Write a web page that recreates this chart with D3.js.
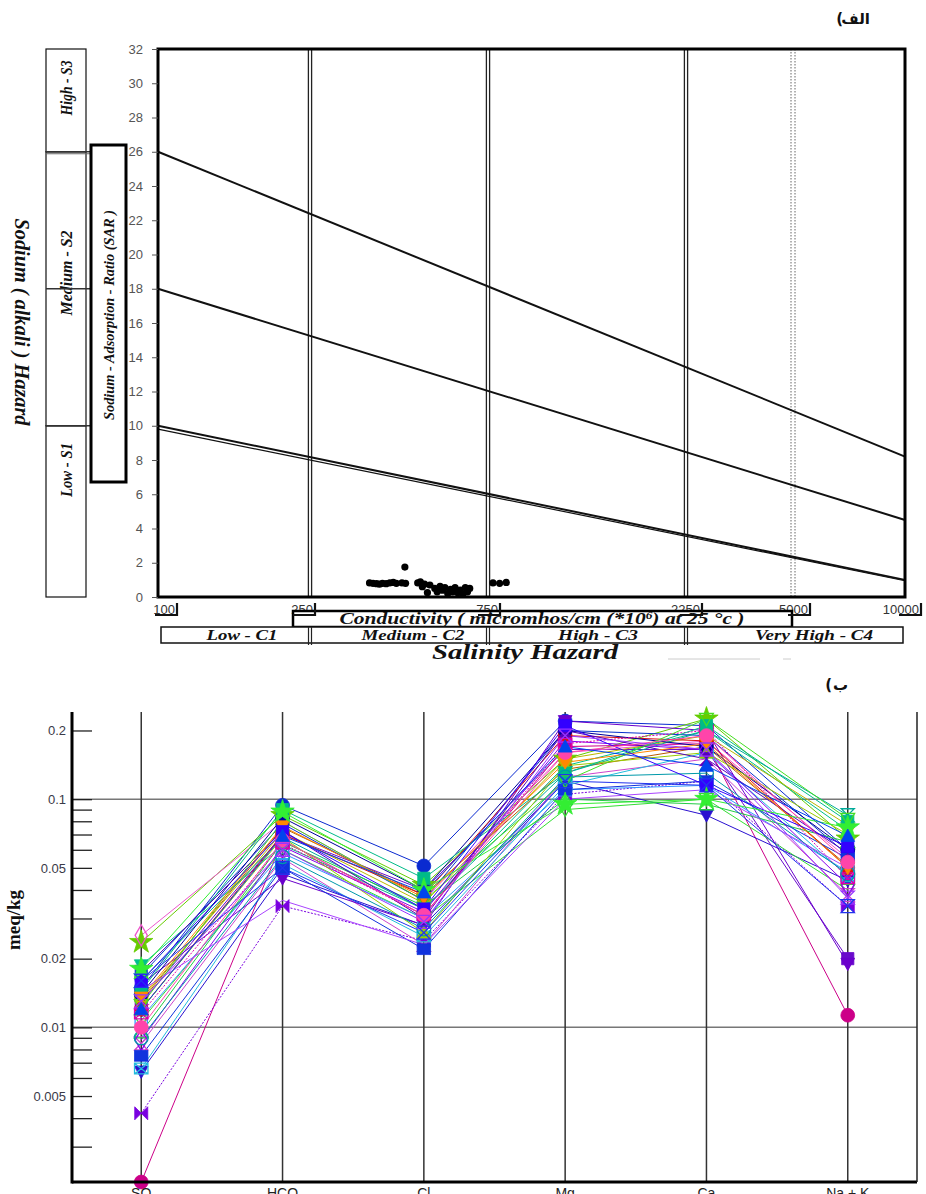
<!DOCTYPE html>
<html><head><meta charset="utf-8">
<script src="https://cdn.jsdelivr.net/npm/d3@7"></script>
<style>html,body{margin:0;padding:0;background:#fff}svg{display:block}</style>
</head><body>
<svg id="c" width="926" height="1194"></svg>
<script>
// ================= DATA: top (USSL / Wilcox) =================
const ecKnots = [100, 250, 750, 2250, 5000, 10000];
const xTickLabels = ["100", "250", "750", "2250", "5000", "10000"];
const salinityBounds = [250, 750, 2250];
const dottedBounds = [5000];
const sarTicks = [0,2,4,6,8,10,12,14,16,18,20,22,24,26,28,30,32];
const hazardStartSar = [26, 18, 10, 9.8];
const hazardEndSar = [8.2, 4.5, 1.0, 0.95];
const sodiumBounds = [32, 26, 10, 0];
const sodiumMarks = [26, 18, 10];
const sodiumLabels = ["High - S3", "Medium - S2", "Low - S1"];
const salinityLabels = ["Low - C1", "Medium - C2", "High - C3", "Very High - C4"];
const ecValues  = [361,369,377,384,391,400,409,418,426,449,441,451,486,494,507,500,524,516,540,548,558,566,575,585,595,603,612,622,632,642,652,661,670,771,800,830];
const sarValues = [0.82,0.80,0.78,0.75,0.80,0.78,0.82,0.85,0.80,1.75,0.82,0.80,0.82,0.88,0.75,0.60,0.70,0.25,0.50,0.30,0.62,0.40,0.55,0.20,0.45,0.30,0.55,0.25,0.40,0.15,0.55,0.30,0.50,0.82,0.80,0.85];

// ================= DATA: bottom (Schoeller) =================
const ions = ["SO", "HCO", "Cl", "Mg", "Ca", "Na + K"];
const yTickValues = [0.2,0.09,0.08,0.07,0.06,0.05,0.04,0.03,0.02,0.009,0.008,0.007,0.006,0.005,0.004,0.003];
const yTickLabelled = [0.2, 0.1, 0.05, 0.02, 0.01, 0.005];
const yGrid = [0.1, 0.01];
const so4  = [0.0148,0.0236,0.0187,0.0130,0.0128,0.0021,0.0253,0.0064,0.0042,0.0107,0.0085,0.0169,0.0133,0.0160,0.0066,0.0155,0.0120,0.0110,0.0140,0.0095,0.0088,0.0120,0.0075,0.0115,0.0145,0.0175,0.0125,0.0135,0.0090,0.0160,0.0180,0.0100,0.0130,0.0145,0.0120,0.0160];
const hco3 = [0.094,0.085,0.063,0.075,0.070,0.066,0.080,0.047,0.034,0.060,0.055,0.078,0.072,0.068,0.052,0.045,0.070,0.058,0.083,0.065,0.062,0.068,0.050,0.064,0.090,0.073,0.080,0.076,0.056,0.072,0.088,0.066,0.060,0.036,0.069,0.050];
const cl   = [0.051,0.042,0.033,0.038,0.040,0.031,0.036,0.028,0.024,0.030,0.023,0.036,0.035,0.033,0.025,0.028,0.038,0.030,0.040,0.034,0.032,0.026,0.022,0.031,0.045,0.030,0.036,0.037,0.027,0.033,0.040,0.031,0.029,0.023,0.039,0.026];
const mg   = [0.220,0.150,0.140,0.135,0.165,0.170,0.160,0.120,0.105,0.090,0.125,0.200,0.150,0.130,0.115,0.220,0.190,0.110,0.200,0.100,0.180,0.140,0.110,0.175,0.130,0.200,0.120,0.145,0.125,0.210,0.095,0.160,0.190,0.100,0.170,0.120];
const ca   = [0.210,0.225,0.200,0.170,0.165,0.175,0.180,0.085,0.120,0.100,0.150,0.190,0.190,0.200,0.160,0.200,0.180,0.115,0.170,0.095,0.165,0.160,0.120,0.200,0.210,0.150,0.225,0.175,0.130,0.115,0.100,0.190,0.165,0.110,0.140,0.115];
const nak  = [0.060,0.067,0.073,0.051,0.020,0.0113,0.055,0.044,0.034,0.040,0.038,0.057,0.077,0.085,0.046,0.019,0.050,0.048,0.060,0.065,0.042,0.070,0.055,0.045,0.080,0.058,0.082,0.050,0.047,0.062,0.075,0.053,0.037,0.050,0.069,0.034];

// styles (separate from data)
const sampleColors = ["#0a2ad0","#66cc00","#00c08a","#b85c00","#6a0acc","#cc0088","#ee55cc","#2a10d0","#7a00e0","#33dd33","#cc44cc","#0a33cc","#b8b800","#00aa99","#22bbdd","#6a00cc","#dd1111","#3399ff","#000099","#22cc44","#8800ee","#99cc00","#1133dd","#dd00aa","#00bb88","#5500bb","#44dd22","#ff8800","#0099aa","#3300ff","#33ee33","#ff44aa","#9933ff","#aa44ff","#0044ee","#2233ee"];
const sampleSymbols = ["circle","star","triDown","triDown","square","circle","diamond","triDown","bowtie","triDown","hourglass","square","circle","hourglass","envelope","triDown","circle","square","circle","triUp","diamond","triUp","envelope","envelope","square","hourglass","triDown","triDown","circle","square","star","circle","hourglass","none","triUp","hourglass"];
const sampleOpen = [0,0,0,0,0,0,1,0,0,1,1,0,0,1,1,0,0,1,0,1,1,0,0,1,0,0,1,0,1,0,0,0,1,0,0,1];
const sampleDashed = [0,0,0,0,0,0,0,0,1,0,0,0,0,0,0,0,0,0,0,0,0,0,0,1,0,0,0,0,0,0,0,0,0,0,0,0];

// ================= DRAW =================
const svg = d3.select("#c");
const serif = "'Liberation Serif','Times New Roman',serif";
const sans = "'Liberation Sans',Arial,sans-serif";

// ---------- top chart ----------
const xs = d3.scaleLinear().domain(ecKnots.map(Math.log10)).range([158, 310, 488, 686, 793, 905]);
const X = v => xs(Math.log10(v));
const Y = d3.scaleLinear().domain([0, 32]).range([597, 49]);
const T = svg.append("g");

salinityBounds.forEach(v => [-1.6, 1.6].forEach(o =>
  T.append("line").attr("x1", X(v) + o).attr("x2", X(v) + o).attr("y1", Y(32)).attr("y2", Y(0))
   .attr("stroke", "#222").attr("stroke-width", 1.3)));
dottedBounds.forEach(v => [-2, 2].forEach(o =>
  T.append("line").attr("x1", X(v) + o).attr("x2", X(v) + o).attr("y1", Y(32)).attr("y2", Y(0))
   .attr("stroke", "#666").attr("stroke-width", 1).attr("stroke-dasharray", "1.5 1.5")));

hazardStartSar.forEach((s, i) =>
  T.append("line").attr("x1", X(ecKnots[0])).attr("y1", Y(s))
   .attr("x2", X(ecKnots[ecKnots.length - 1])).attr("y2", Y(hazardEndSar[i]))
   .attr("stroke", "#111").attr("stroke-width", i === 3 ? 1.2 : 2));

T.append("rect").attr("x", X(100)).attr("y", Y(32)).attr("width", X(10000) - X(100)).attr("height", Y(0) - Y(32))
 .attr("fill", "none").attr("stroke", "#000").attr("stroke-width", 3);

T.selectAll("circle.pt").data(ecValues).join("circle").attr("class", "pt")
 .attr("cx", d => X(d)).attr("cy", (d, i) => Y(sarValues[i])).attr("r", 3.6).attr("fill", "#000");

const ya = T.append("g").attr("transform", `translate(${X(100)},0)`)
  .call(d3.axisLeft(Y).tickValues(sarTicks).tickSize(6).tickPadding(9));
ya.select(".domain").remove();
ya.selectAll("text").attr("font-family", sans).attr("font-size", 13).attr("fill", "#555");
ya.selectAll("line").attr("stroke", "#555");

// sodium class boxes
const sodiumLabelY = [88, 273, 470];
const sodiumLabelLen = [55, 85, 54];
sodiumLabels.forEach((lab, i) => {
  T.append("rect").attr("x", 46).attr("y", Y(sodiumBounds[i])).attr("width", 40)
   .attr("height", Y(sodiumBounds[i + 1]) - Y(sodiumBounds[i]))
   .attr("fill", "none").attr("stroke", "#111").attr("stroke-width", 1.2);
  T.append("text").attr("transform", `translate(72,${sodiumLabelY[i]}) rotate(-90)`)
   .attr("text-anchor", "middle").attr("font-family", serif).attr("font-style", "italic")
   .attr("font-weight", "bold").attr("font-size", 16).attr("textLength", sodiumLabelLen[i])
   .attr("lengthAdjust", "spacingAndGlyphs").attr("fill", "#111").text(lab);
});
sodiumMarks.forEach(s => T.append("line").attr("x1", 46).attr("x2", 91).attr("y1", Y(s)).attr("y2", Y(s))
  .attr("stroke", "#333").attr("stroke-width", 1.3));
T.append("line").attr("x1", 46).attr("x2", 91).attr("y1", Y(26) + 2).attr("y2", Y(26) + 2).attr("stroke", "#666").attr("stroke-width", 1);

T.append("rect").attr("x", 91).attr("y", 145).attr("width", 35).attr("height", 337)
 .attr("fill", "#fff").attr("stroke", "#000").attr("stroke-width", 3);
T.append("text").attr("transform", "translate(114,315) rotate(-90)").attr("text-anchor", "middle")
 .attr("font-family", serif).attr("font-style", "italic").attr("font-weight", "bold").attr("font-size", 15)
 .attr("textLength", 210).attr("lengthAdjust", "spacingAndGlyphs").attr("fill", "#111")
 .text("Sodium - Adsorption - Ratio (SAR )");
T.append("text").attr("transform", "translate(15,322) rotate(90)").attr("text-anchor", "middle")
 .attr("font-family", serif).attr("font-style", "italic").attr("font-weight", "bold").attr("font-size", 20)
 .attr("textLength", 207).attr("lengthAdjust", "spacingAndGlyphs").attr("fill", "#111")
 .text("Sodium ( alkali ) Hazard");

// x tick labels (label end offsets are layout, not data)
const xTickLabelShift = [17, 3, 10, 14, 15, 14];
ecKnots.forEach((v, i) => {
  T.append("text").attr("x", X(v) + xTickLabelShift[i]).attr("y", 614).attr("text-anchor", "end")
   .attr("font-family", sans).attr("font-size", 13).attr("fill", "#333").text(xTickLabels[i]);
});
// conductivity box
T.append("rect").attr("x", 293).attr("y", 611).attr("width", 499).attr("height", 16)
 .attr("fill", "#fff").attr("stroke", "#000").attr("stroke-width", 2.5);
const ct = T.append("text").attr("x", 542).attr("y", 624).attr("text-anchor", "middle")
 .attr("font-family", serif).attr("font-style", "italic").attr("font-weight", "bold").attr("font-size", 16)
 .attr("textLength", 405).attr("lengthAdjust", "spacingAndGlyphs").attr("fill", "#111");
ct.append("tspan").text("Conductivity ( micromhos/cm (*10");
ct.append("tspan").attr("dy", -5).attr("font-size", 10).text("6");
ct.append("tspan").attr("dy", 5).text(") at 25 °c )");
// class box
T.append("rect").attr("x", X(100) + 3).attr("y", 627).attr("width", X(10000) - X(100) - 5).attr("height", 16)
 .attr("fill", "#fff").attr("stroke", "#111").attr("stroke-width", 1.5);
salinityBounds.forEach(v => [-1.5, 1.5].forEach(o =>
  T.append("line").attr("x1", X(v) + o).attr("x2", X(v) + o).attr("y1", 627).attr("y2", 645)
   .attr("stroke", "#222").attr("stroke-width", 1.2)));
const salinityLabelX = [242, 413, 598, 814];
const salinityLabelLen = [71, 103, 80, 118];
salinityLabels.forEach((lab, i) => {
  T.append("text").attr("x", salinityLabelX[i]).attr("y", 640).attr("text-anchor", "middle")
   .attr("font-family", serif).attr("font-style", "italic").attr("font-weight", "bold").attr("font-size", 15)
   .attr("textLength", salinityLabelLen[i]).attr("lengthAdjust", "spacingAndGlyphs").attr("fill", "#111").text(lab);
});
// tick bars
ecKnots.forEach((v, i) => {
  const xe = X(v) + xTickLabelShift[i] + 2;
  T.append("path").attr("d", `M${xe - 22},615 H${xe} V603`).attr("fill", "none")
   .attr("stroke", "#111").attr("stroke-width", 2.2);
});
T.append("text").attr("x", 525).attr("y", 659).attr("text-anchor", "middle")
 .attr("font-family", serif).attr("font-style", "italic").attr("font-weight", "bold").attr("font-size", 22)
 .attr("textLength", 186).attr("lengthAdjust", "spacingAndGlyphs").attr("fill", "#111").text("Salinity  Hazard");
T.append("line").attr("x1", 668).attr("x2", 760).attr("y1", 659).attr("y2", 659).attr("stroke", "#ccc");
T.append("line").attr("x1", 783).attr("x2", 791).attr("y1", 659).attr("y2", 659).attr("stroke", "#ccc");

// panel titles (Persian "الف)" and "ب)"): word and its bracket set separately, the bracket
// drawn mirrored on the left as in right-to-left typesetting
const ar = "'DejaVu Sans',sans-serif";
svg.append("text").attr("x", 870).attr("y", 24).attr("text-anchor", "end").attr("font-family", ar)
 .attr("font-weight", "bold").attr("font-size", 15).attr("fill", "#111").text("الف");
svg.append("text").attr("x", 843).attr("y", 24).attr("text-anchor", "end").attr("font-family", ar)
 .attr("font-weight", "bold").attr("font-size", 15).attr("fill", "#111").text("(");
svg.append("text").attr("x", 848).attr("y", 690).attr("text-anchor", "end").attr("font-family", ar)
 .attr("font-weight", "bold").attr("font-size", 15).attr("fill", "#111").text("ب");
svg.append("text").attr("x", 832).attr("y", 690).attr("text-anchor", "end").attr("font-family", ar)
 .attr("font-weight", "bold").attr("font-size", 15).attr("fill", "#111").text("(");

// ---------- bottom chart ----------
const B = svg.append("g");
const xb = d3.scalePoint().domain(ions).range([72, 917]).padding(0.49);
const yb = d3.scaleLog().domain([0.0021, 0.241]).range([1182, 712]);
const L = 72, R = 917, TOP = yb(0.241), BOT = yb(0.0021);

yGrid.forEach(v => B.append("line").attr("x1", L).attr("x2", R).attr("y1", yb(v)).attr("y2", yb(v))
  .attr("stroke", "#777").attr("stroke-width", 1.5));
ions.forEach(c => B.append("line").attr("x1", xb(c)).attr("x2", xb(c)).attr("y1", TOP).attr("y2", BOT)
  .attr("stroke", "#333").attr("stroke-width", 1.5));

const ax = B.append("g").attr("transform", `translate(${L},0)`)
  .call(d3.axisLeft(yb).tickValues(yTickValues.concat(yGrid)).tickSize(-20).tickPadding(6)
  .tickFormat(d => yTickLabelled.includes(d) ? String(d) : ""));
ax.select(".domain").remove();
ax.selectAll("line").attr("stroke", "#222").attr("stroke-width", 1.3);
ax.selectAll("text").attr("font-family", sans).attr("font-size", 13).attr("fill", "#3a3a48");

B.append("text").attr("transform", "translate(20,920) rotate(-90)").attr("text-anchor", "middle")
 .attr("font-family", serif).attr("font-weight", "bold").attr("font-size", 19).attr("fill", "#111").text("meq/kg");

// symbols
const triDown = { draw(ctx, size) { const r = Math.sqrt(size) / 2; ctx.moveTo(-r, -r * 0.8); ctx.lineTo(r, -r * 0.8); ctx.lineTo(0, r); ctx.closePath(); } };
const triUp = { draw(ctx, size) { const r = Math.sqrt(size) / 2; ctx.moveTo(-r, r * 0.8); ctx.lineTo(r, r * 0.8); ctx.lineTo(0, -r); ctx.closePath(); } };
const hourglass = { draw(ctx, size) { const r = Math.sqrt(size) / 2; ctx.moveTo(-r, -r); ctx.lineTo(r, -r); ctx.lineTo(-r, r); ctx.lineTo(r, r); ctx.closePath(); } };
const bowtie = { draw(ctx, size) { const r = Math.sqrt(size) / 2; ctx.moveTo(-r, -r); ctx.lineTo(r, r); ctx.lineTo(r, -r); ctx.lineTo(-r, r); ctx.closePath(); } };
const envelope = { draw(ctx, size) { const r = Math.sqrt(size) / 2; ctx.moveTo(-r, -r * 0.8); ctx.lineTo(r, -r * 0.8); ctx.lineTo(r, r * 0.8); ctx.lineTo(-r, r * 0.8); ctx.closePath(); ctx.moveTo(-r, -r * 0.8); ctx.lineTo(r, r * 0.8); ctx.moveTo(r, -r * 0.8); ctx.lineTo(-r, r * 0.8); } };
const symTypes = { circle: d3.symbolCircle, square: d3.symbolSquare, diamond: d3.symbolDiamond, star: d3.symbolStar, triDown, triUp, hourglass, bowtie, envelope };
const symSizes = { circle: 150, square: 150, diamond: 130, star: 170, triDown: 190, triUp: 190, hourglass: 170, bowtie: 170, envelope: 180 };

const series = so4.map((_, i) => [so4[i], hco3[i], cl[i], mg[i], ca[i], nak[i]]);
const line = d3.line().x((d, j) => xb(ions[j])).y(d => yb(d));
series.forEach((s, i) => {
  B.append("path").attr("d", line(s)).attr("fill", "none").attr("stroke", sampleColors[i])
   .attr("stroke-width", 1).attr("stroke-dasharray", sampleDashed[i] ? "2 1.5" : null);
});
series.forEach((s, i) => {
  const name = sampleSymbols[i];
  if (name === "none") return;
  const sym = d3.symbol().type(symTypes[name]).size(symSizes[name]);
  s.forEach((v, j) => {
    B.append("path").attr("d", sym()).attr("transform", `translate(${xb(ions[j])},${yb(v)})`)
     .attr("fill", sampleOpen[i] ? "none" : sampleColors[i])
     .attr("stroke", sampleColors[i]).attr("stroke-width", sampleOpen[i] ? 1.3 : 0.8);
  });
});

B.append("line").attr("x1", L).attr("x2", L).attr("y1", TOP).attr("y2", BOT + 1.5).attr("stroke", "#000").attr("stroke-width", 3);
B.append("line").attr("x1", L).attr("x2", R).attr("y1", BOT).attr("y2", BOT).attr("stroke", "#000").attr("stroke-width", 3);
B.append("line").attr("x1", R).attr("x2", R).attr("y1", TOP).attr("y2", BOT).attr("stroke", "#222").attr("stroke-width", 1.5);

ions.forEach(c => B.append("text").attr("x", xb(c)).attr("y", 1198).attr("text-anchor", "middle")
  .attr("font-family", sans).attr("font-size", 14).attr("fill", "#222").text(c));
</script></body></html>
